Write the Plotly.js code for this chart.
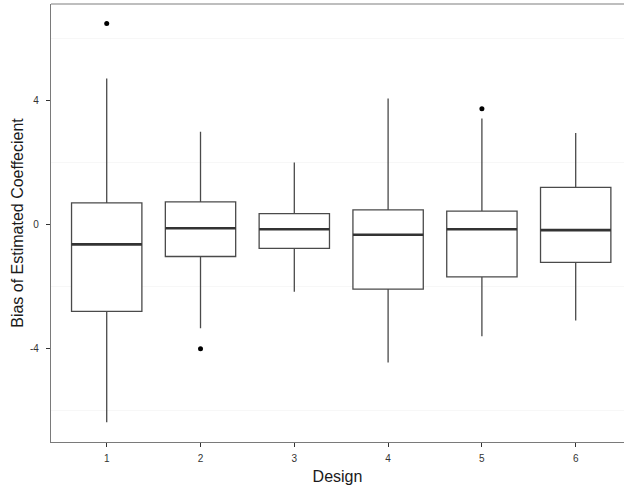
<!DOCTYPE html>
<html>
<head>
<meta charset="utf-8">
<script src="https://cdn.plot.ly/plotly-3.0.1.min.js"></script>
<style>html,body{margin:0;padding:0;background:#fff;}#chart{width:624px;height:490px;}</style>
</head>
<body>
<div id="chart"></div>
<script>
const designs = [1, 2, 3, 4, 5, 6];
const lowerWhisker = [-6.37, -3.34, -2.17, -4.45, -3.60, -3.09];
const q1 = [-2.80, -1.03, -0.77, -2.08, -1.69, -1.22];
const median = [-0.64, -0.12, -0.15, -0.33, -0.15, -0.18];
const q3 = [0.70, 0.73, 0.35, 0.47, 0.43, 1.20];
const upperWhisker = [4.71, 2.99, 2.00, 4.06, 3.42, 2.95];
const outlierDesign = [1, 2, 5];
const outlierValue = [6.48, -4.00, 3.73];
const yTicks = [-4, 0, 4];

const boxWidth = 0.75;
const boxColor = '#4a4a4a';

const traces = [
  {
    type: 'box',
    x: designs,
    q1: q1,
    median: median,
    q3: q3,
    lowerfence: lowerWhisker,
    upperfence: upperWhisker,
    width: boxWidth,
    whiskerwidth: 0,
    fillcolor: '#ffffff',
    line: {color: boxColor, width: 1.3},
    boxpoints: false,
    hoverinfo: 'skip',
    showlegend: false
  }
];

// thicker median bars, as in the original
const mx = [], my = [];
designs.forEach((d, i) => {
  mx.push(d - boxWidth / 2, d + boxWidth / 2, null);
  my.push(median[i], median[i], null);
});
traces.push({
  type: 'scatter', mode: 'lines', x: mx, y: my,
  line: {color: '#333333', width: 2.6}, hoverinfo: 'skip', showlegend: false
});

traces.push({
  type: 'scatter', mode: 'markers', x: outlierDesign, y: outlierValue,
  marker: {color: '#000000', size: 5}, hoverinfo: 'skip', showlegend: false
});

const layout = {
  width: 624, height: 490,
  margin: {l: 51, r: 0, t: 4, b: 48},
  paper_bgcolor: '#ffffff', plot_bgcolor: '#ffffff',
  font: {family: 'Liberation Sans, Arial, sans-serif', color: '#333333', size: 10},
  showlegend: false,
  xaxis: {
    range: [0.406, 6.515],
    tickvals: designs,
    ticktext: designs.map(String),
    ticks: 'outside', ticklen: 4, tickcolor: '#333333', tickwidth: 1,
    ticklabelstandoff: 3,
    showgrid: false, zeroline: false,
    showline: true, linecolor: '#7a7a7a', linewidth: 1.2,
    tickfont: {size: 10, color: '#333333'},
    title: {text: 'Design', font: {size: 16, color: '#1a1a1a'}, standoff: 7}
  },
  yaxis: {
    range: [-7.01, 7.11],
    tickvals: yTicks,
    ticktext: yTicks.map(String),
    ticks: 'outside', ticklen: 4, tickcolor: '#333333', tickwidth: 1,
    ticklabelstandoff: 5,
    showgrid: false, zeroline: false,
    showline: true, linecolor: '#7a7a7a', linewidth: 1.2,
    minor: {tick0: 2, dtick: 4, showgrid: true, gridcolor: '#f7f7f7', gridwidth: 1, ticks: ''},
    tickfont: {size: 10, color: '#333333'},
    title: {text: 'Bias of Estimated Coeffecient', font: {size: 16, color: '#1a1a1a'}, standoff: 2}
  },
  shapes: [
    {type: 'line', xref: 'paper', yref: 'paper', x0: 0, x1: 1, y0: 1, y1: 1,
     line: {color: '#a8a8a8', width: 1.5}}
  ]
};

Plotly.newPlot('chart', traces, layout, {displayModeBar: false, staticPlot: true});
</script>
</body>
</html>
